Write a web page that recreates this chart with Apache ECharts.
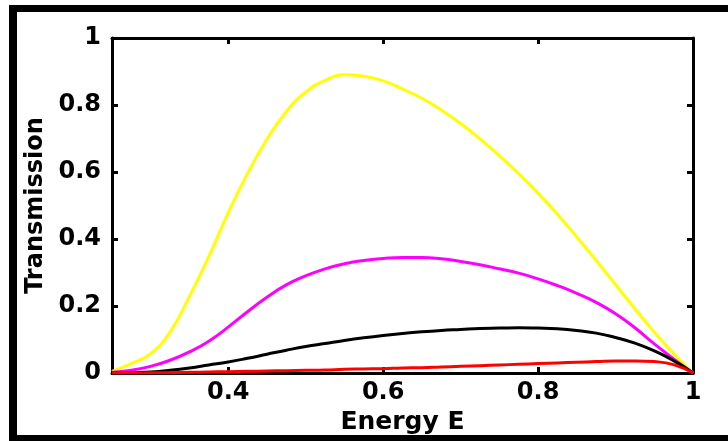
<!DOCTYPE html>
<html>
<head>
<meta charset="utf-8">
<title>Transmission</title>
<script src="https://cdn.jsdelivr.net/npm/echarts@6/dist/echarts.min.js"></script>
<style>
  html, body { margin: 0; padding: 0; background: #fff; }
  #main { width: 728px; height: 441px; }
</style>
</head>
<body>
<div id="main"></div>
<script>
// energy grid shared by every curve
const energy = [0.25, 0.275, 0.30, 0.325, 0.35, 0.375, 0.40, 0.425, 0.45, 0.475,
  0.50, 0.525, 0.55, 0.575, 0.60, 0.625, 0.65, 0.675, 0.70, 0.725,
  0.75, 0.775, 0.80, 0.825, 0.85, 0.875, 0.90, 0.925, 0.95, 0.975, 1.00]

const yellowT = [0.005, 0.028, 0.058, 0.122, 0.228, 0.347, 0.477, 0.595, 0.697, 0.78,
  0.838, 0.873, 0.89, 0.886, 0.872, 0.848, 0.82, 0.785, 0.745, 0.699,
  0.649, 0.595, 0.537, 0.474, 0.406, 0.336, 0.264, 0.192, 0.122, 0.058, 0.0]

const magentaT = [0.002, 0.008, 0.02, 0.038, 0.063, 0.095, 0.137, 0.183, 0.226, 0.263,
  0.29, 0.311, 0.326, 0.336, 0.342, 0.345, 0.345, 0.341, 0.333, 0.323,
  0.311, 0.298, 0.281, 0.261, 0.238, 0.211, 0.177, 0.135, 0.087, 0.042, 0.0]

const blackT = [0, 0.001, 0.003, 0.008, 0.015, 0.024, 0.033, 0.044, 0.056, 0.068,
  0.079, 0.088, 0.097, 0.105, 0.112, 0.118, 0.123, 0.127, 0.13, 0.133,
  0.134, 0.135, 0.134, 0.132, 0.127, 0.119, 0.106, 0.089, 0.066, 0.037, 0.0]

const redT = [0, 0, 0.0005, 0.001, 0.002, 0.003, 0.004, 0.005, 0.006, 0.007,
  0.008, 0.009, 0.011, 0.012, 0.013, 0.015, 0.016, 0.018, 0.02, 0.022,
  0.024, 0.026, 0.028, 0.03, 0.032, 0.034, 0.036, 0.036, 0.034, 0.025, 0.0]

const xTicks = [0.4, 0.6, 0.8, 1]

const font = 'DejaVu Sans'

function pairs (ys) {
  return energy.map((e, i) => [e, ys[i]])
}

function curve (name, color, ys) {
  return {
    name: name,
    type: 'line',
    smooth: true,
    symbol: 'none',
    lineStyle: { color: color, width: 3 },
    data: pairs(ys)
  }
}

function axisLine () {
  return { show: true, onZero: false, lineStyle: { color: '#000', width: 3 } }
}
function innerTick (values) {
  const t = { show: true, inside: true, length: 6, lineStyle: { color: '#000', width: 3 } }
  if (values) t.customValues = values
  return t
}
const labelStyle = { color: '#000', fontSize: 24, fontWeight: 'bold', fontFamily: font }

const myChart = echarts.init(document.getElementById('main'))
myChart.setOption({
  animation: false,
  backgroundColor: '#fff',
  grid: { left: 112, right: 35, top: 38, bottom: 68 },
  xAxis: [
    {
      type: 'value',
      min: 0.25,
      max: 1,
      name: 'Energy E',
      nameLocation: 'middle',
      nameGap: 32,
      nameTextStyle: { color: '#000', fontSize: 25, fontWeight: 'bold', fontFamily: font },
      axisLine: axisLine(),
      axisTick: innerTick(xTicks),
      axisLabel: Object.assign({ customValues: xTicks, margin: 8 }, labelStyle),
      splitLine: { show: false }
    },
    {
      type: 'value',
      position: 'top',
      min: 0.25,
      max: 1,
      axisLine: axisLine(),
      axisTick: innerTick(xTicks),
      axisLabel: { show: false },
      splitLine: { show: false }
    }
  ],
  yAxis: [
    {
      type: 'value',
      min: 0,
      max: 1,
      interval: 0.2,
      name: 'Transmission',
      nameLocation: 'middle',
      nameGap: 63,
      nameTextStyle: { color: '#000', fontSize: 24, fontWeight: 'bold', fontFamily: font },
      axisLine: axisLine(),
      axisTick: innerTick(),
      axisLabel: Object.assign({ margin: 11 }, labelStyle),
      splitLine: { show: false }
    },
    {
      type: 'value',
      position: 'right',
      min: 0,
      max: 1,
      interval: 0.2,
      axisLine: axisLine(),
      axisTick: innerTick(),
      axisLabel: { show: false },
      splitLine: { show: false }
    }
  ],
  series: [
    curve('yellow', '#ffff00', yellowT),
    curve('magenta', '#ff00ff', magentaT),
    curve('black', '#000000', blackT),
    curve('red', '#ff0000', redT)
  ],
  // outer frame of the figure
  graphic: [
    { type: 'rect', shape: { x: 10, y: 5, width: 718, height: 7 }, style: { fill: '#000' } },
    { type: 'rect', shape: { x: 9, y: 5, width: 8, height: 436 }, style: { fill: '#000' } },
    { type: 'rect', shape: { x: 9, y: 435, width: 719, height: 6 }, style: { fill: '#000' } }
  ]
})
</script>
</body>
</html>
